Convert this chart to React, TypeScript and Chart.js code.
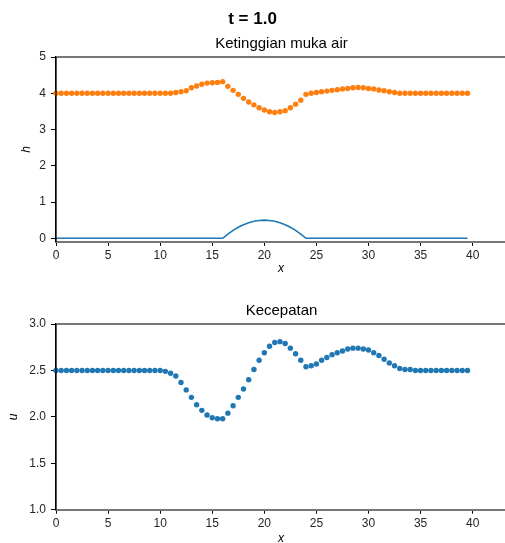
import React, { useEffect, useRef } from 'react';
import { Chart, registerables } from 'chart.js';

Chart.register(...registerables);

const FONT = "'Liberation Sans', Arial, Helvetica, sans-serif";

// ---- data ----
const xGrid = [
  0, 0.5, 1, 1.5, 2, 2.5, 3, 3.5, 4, 4.5, 5, 5.5, 6, 6.5, 7, 7.5, 8, 8.5, 9, 9.5,
  10, 10.5, 11, 11.5, 12, 12.5, 13, 13.5, 14, 14.5, 15, 15.5, 16, 16.5, 17, 17.5, 18, 18.5, 19, 19.5,
  20, 20.5, 21, 21.5, 22, 22.5, 23, 23.5, 24, 24.5, 25, 25.5, 26, 26.5, 27, 27.5, 28, 28.5, 29, 29.5,
  30, 30.5, 31, 31.5, 32, 32.5, 33, 33.5, 34, 34.5, 35, 35.5, 36, 36.5, 37, 37.5, 38, 38.5, 39, 39.5,
];

// water surface elevation (orange dots)
const waterHeight = [
  4.0, 4.0, 4.0, 4.0, 4.0, 4.0, 4.0, 4.0, 4.0, 4.0, 4.0, 4.0, 4.0, 4.0, 4.0, 4.0, 4.0, 4.0, 4.0, 4.0,
  4.0, 4.0, 4.0, 4.02, 4.04, 4.07, 4.15, 4.2, 4.25, 4.28, 4.29, 4.3, 4.32, 4.19, 4.08, 3.97, 3.86, 3.76, 3.68, 3.6,
  3.54, 3.49, 3.47, 3.49, 3.52, 3.6, 3.7, 3.81, 3.97, 4.0, 4.02, 4.04, 4.06, 4.08, 4.1, 4.12, 4.13, 4.15, 4.16, 4.15,
  4.13, 4.12, 4.09, 4.07, 4.04, 4.02, 4.0, 4.0, 4.0, 4.0, 4.0, 4.0, 4.0, 4.0, 4.0, 4.0, 4.0, 4.0, 4.0, 4.0,
];

// bed topography (blue line)
const bedElevation = [
  0, 0, 0, 0, 0, 0, 0, 0, 0, 0, 0, 0, 0, 0, 0, 0, 0, 0, 0, 0,
  0, 0, 0, 0, 0, 0, 0, 0, 0, 0, 0, 0, 0, 0.117, 0.219, 0.305, 0.375, 0.43, 0.469, 0.492,
  0.5, 0.492, 0.469, 0.43, 0.375, 0.305, 0.219, 0.117, 0, 0, 0, 0, 0, 0, 0, 0, 0, 0, 0, 0,
  0, 0, 0, 0, 0, 0, 0, 0, 0, 0, 0, 0, 0, 0, 0, 0, 0, 0, 0, 0,
];

// velocity (blue dots)
const velocity = [
  2.5, 2.5, 2.5, 2.5, 2.5, 2.5, 2.5, 2.5, 2.5, 2.5, 2.5, 2.5, 2.5, 2.5, 2.5, 2.5, 2.5, 2.5, 2.5, 2.5,
  2.5, 2.49, 2.47, 2.44, 2.37, 2.29, 2.21, 2.13, 2.07, 2.02, 1.99, 1.98, 1.98, 2.04, 2.12, 2.21, 2.3, 2.4, 2.51, 2.61,
  2.69, 2.76, 2.8, 2.81, 2.79, 2.74, 2.68, 2.61, 2.54, 2.55, 2.57, 2.61, 2.64, 2.67, 2.69, 2.71, 2.73, 2.74, 2.74, 2.73,
  2.72, 2.69, 2.66, 2.62, 2.58, 2.55, 2.52, 2.51, 2.51, 2.5, 2.5, 2.5, 2.5, 2.5, 2.5, 2.5, 2.5, 2.5, 2.5, 2.5,
];

const xTicks = [0, 5, 10, 15, 20, 25, 30, 35, 40];
const hTicks = [0, 1, 2, 3, 4, 5];
const uTicks = [1.0, 1.5, 2.0, 2.5, 3.0];

const SUPTITLE = 't = 1.0';
const TOP_TITLE = 'Ketinggian muka air';
const BOTTOM_TITLE = 'Kecepatan';

const BLUE = '#1f77b4';
const ORANGE = '#ff7f0e';

const CANVAS_W = 510;
const FIG_W = 505;

function decorPlugin(title: string, sup?: string) {
  return {
    id: 'decor',
    afterDraw(chart: any) {
      const { ctx, chartArea } = chart;
      ctx.save();
      // top spine
      ctx.strokeStyle = '#777777';
      ctx.lineWidth = 2;
      ctx.beginPath();
      ctx.moveTo(chartArea.left, chartArea.top);
      ctx.lineTo(chartArea.right, chartArea.top);
      ctx.stroke();
      // left spine redraw on top
      ctx.strokeStyle = '#000000';
      ctx.lineWidth = 1.2;
      ctx.beginPath();
      ctx.moveTo(chartArea.left, chartArea.top);
      ctx.lineTo(chartArea.left, chartArea.bottom);
      ctx.stroke();
      // subplot title
      ctx.fillStyle = '#000000';
      ctx.textAlign = 'center';
      ctx.textBaseline = 'middle';
      ctx.font = `15px ${FONT}`;
      ctx.fillText(title, (chartArea.left + FIG_W + 2) / 2, chartArea.top - 13);
      if (sup) {
        ctx.font = `bold 17px ${FONT}`;
        ctx.fillText(sup, FIG_W / 2, 19);
      }
      ctx.restore();
    },
  };
}

type AxisCfg = {
  yMin: number;
  yMax: number;
  yTicks: number[];
  yDigits: number;
  yTitle: string;
  yTitlePad: number;
  xScaleHeight: number;
  xTitlePad: number;
  padTop: number;
};

function makeOptions(c: AxisCfg): any {
  const tickFont = { family: FONT, size: 12 };
  const titleFont = { family: FONT, size: 12, style: 'italic' as const };
  return {
    responsive: false,
    animation: false,
    devicePixelRatio: 1,
    layout: { padding: { top: c.padTop, left: 0, right: 0, bottom: 0 } },
    plugins: { legend: { display: false }, title: { display: false }, tooltip: { enabled: false } },
    scales: {
      x: {
        type: 'linear',
        min: 0,
        max: 43.2,
        afterBuildTicks: (s: any) => {
          s.ticks = xTicks.map((v) => ({ value: v }));
        },
        afterFit: (s: any) => {
          s.height = c.xScaleHeight;
        },
        grid: { display: true, drawOnChartArea: false, drawTicks: true, tickLength: 4, color: '#000000', lineWidth: 1 },
        border: { display: true, color: '#777777', width: 2 },
        ticks: {
          font: tickFont,
          color: '#262626',
          padding: 3,
          maxRotation: 0,
          autoSkip: false,
          callback: (v: any) => String(v),
        },
        title: {
          display: true,
          text: 'x',
          font: titleFont,
          color: '#000000',
          padding: { top: 0, bottom: c.xTitlePad },
        },
      },
      y: {
        type: 'linear',
        min: c.yMin,
        max: c.yMax,
        afterBuildTicks: (s: any) => {
          s.ticks = c.yTicks.map((v) => ({ value: v }));
        },
        afterFit: (s: any) => {
          s.width = 56;
        },
        grid: { display: true, drawOnChartArea: false, drawTicks: true, tickLength: 5, color: '#000000', lineWidth: 1 },
        border: { display: true, color: '#000000', width: 1.2 },
        ticks: {
          font: tickFont,
          color: '#262626',
          padding: 5,
          autoSkip: false,
          callback: (v: any) => Number(v).toFixed(c.yDigits),
        },
        title: {
          display: true,
          text: c.yTitle,
          font: titleFont,
          color: '#000000',
          padding: { top: c.yTitlePad, bottom: 0 },
        },
      },
    },
  };
}

export default function App() {
  const topRef = useRef<HTMLCanvasElement>(null);
  const botRef = useRef<HTMLCanvasElement>(null);

  useEffect(() => {
    const top = new Chart(topRef.current as HTMLCanvasElement, {
      type: 'scatter',
      data: {
        datasets: [
          {
            data: xGrid.map((x, i) => ({ x, y: bedElevation[i] })),
            showLine: true,
            borderColor: BLUE,
            borderWidth: 1.6,
            pointRadius: 0,
            clip: false,
          } as any,
          {
            data: xGrid.map((x, i) => ({ x, y: waterHeight[i] })),
            showLine: false,
            backgroundColor: ORANGE,
            borderWidth: 0,
            pointRadius: 2.7,
            clip: false,
          } as any,
        ],
      },
      options: makeOptions({
        yMin: -0.1,
        yMax: 5,
        yTicks: hTicks,
        yDigits: 0,
        yTitle: 'h',
        yTitlePad: 19.8,
        xScaleHeight: 43.1,
        xTitlePad: 9,
        padTop: 57,
      }),
      plugins: [decorPlugin(TOP_TITLE, SUPTITLE)],
    });

    const bot = new Chart(botRef.current as HTMLCanvasElement, {
      type: 'scatter',
      data: {
        datasets: [
          {
            data: xGrid.map((x, i) => ({ x, y: velocity[i] })),
            showLine: false,
            backgroundColor: BLUE,
            borderWidth: 0,
            pointRadius: 2.7,
            clip: false,
          } as any,
        ],
      },
      options: makeOptions({
        yMin: 1.0,
        yMax: 3.0,
        yTicks: uTicks,
        yDigits: 1,
        yTitle: 'u',
        yTitlePad: 6,
        xScaleHeight: 37.3,
        xTitlePad: 1.5,
        padTop: 39,
      }),
      plugins: [decorPlugin(BOTTOM_TITLE)],
    });

    return () => {
      top.destroy();
      bot.destroy();
    };
  }, []);

  return (
    <div
      style={{
        position: 'fixed',
        left: 0,
        top: 0,
        width: 505,
        height: 543,
        overflow: 'hidden',
        background: '#ffffff',
      }}
    >
      <canvas
        ref={topRef}
        width={CANVAS_W}
        height={285}
        style={{ position: 'absolute', left: 0, top: 0, width: CANVAS_W, height: 285 }}
      />
      <canvas
        ref={botRef}
        width={CANVAS_W}
        height={262}
        style={{ position: 'absolute', left: 0, top: 285, width: CANVAS_W, height: 262 }}
      />
    </div>
  );
}
